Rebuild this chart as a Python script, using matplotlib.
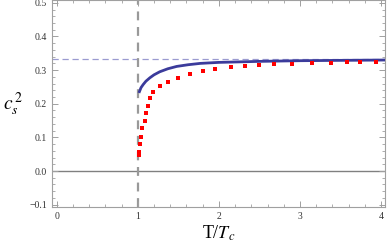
import matplotlib
matplotlib.use("Agg")
import matplotlib.pyplot as plt
from matplotlib.ticker import MultipleLocator

plt.rcParams["font.family"] = ["Liberation Serif", "DejaVu Serif"]
plt.rcParams["mathtext.fontset"] = "stix"

# lattice-like points (red squares)
t_pts = [1.012, 1.016, 1.025, 1.045, 1.058, 1.086, 1.103, 1.128, 1.152, 1.193,
         1.276, 1.37, 1.494, 1.65, 1.80, 1.95, 2.15, 2.32, 2.49, 2.68,
         2.90, 3.15, 3.38, 3.58, 3.74, 3.94]
cs2_pts = [0.048, 0.058, 0.080, 0.102, 0.129, 0.149, 0.172, 0.194, 0.216, 0.234,
           0.252, 0.265, 0.276, 0.289, 0.298, 0.304, 0.310, 0.311, 0.315, 0.318,
           0.319, 0.321, 0.322, 0.323, 0.324, 0.324]

# model curve (blue line)
t_line = [1.02, 1.04, 1.066, 1.10, 1.148, 1.20, 1.27, 1.37, 1.48, 1.62,
          1.77, 2.0, 2.17, 2.5, 3.0, 3.5, 4.05]
cs2_line = [0.236, 0.248, 0.257, 0.267, 0.277, 0.286, 0.295, 0.304, 0.311, 0.316,
            0.320, 0.323, 0.324, 0.326, 0.328, 0.329, 0.330]

conformal = 1.0 / 3.0
t_c = 1.0

fig = plt.figure(figsize=(3.87, 2.45), dpi=100)
ax = fig.add_axes([0.134, 0.155, 0.861, 0.843])

ax.axhline(0.0, color="#808080", lw=1.0, zorder=1)
ax.axhline(conformal, color="#9a9ad0", lw=0.9, ls=(0, (5, 3)), zorder=1)
ax.axvline(t_c, color="#999999", lw=1.6, ls=(0, (4, 3)), zorder=1)

ax.plot(t_line, cs2_line, color="#3b3b9b", lw=2.0, zorder=3)
ax.plot(t_pts, cs2_pts, ls="none", marker="s", ms=3.5, color="#ff0000", mew=0, zorder=4)

ax.set_xlim(-0.06, 4.05)
ax.set_ylim(-0.107, 0.507)
ax.xaxis.set_major_locator(MultipleLocator(1))
ax.xaxis.set_minor_locator(MultipleLocator(0.2))
ax.yaxis.set_major_locator(MultipleLocator(0.1))
ax.yaxis.set_minor_locator(MultipleLocator(0.02))
ax.yaxis.set_major_formatter(matplotlib.ticker.FuncFormatter(
    lambda v, p: ("\u2212%.1f" % -v) if v < -1e-9 else "%.1f" % abs(v)))

for s in ax.spines.values():
    s.set_color("#a0a0a0")
    s.set_linewidth(0.8)
ax.tick_params(which="both", direction="in", top=True, right=True,
               color="#a0a0a0", labelsize=7, labelcolor="#333333")
ax.tick_params(which="major", length=4, width=0.7)
ax.tick_params(which="minor", length=2, width=0.6)

ax.set_xlabel(r"T/$T_c$", fontsize=13, labelpad=2)
ax.set_ylabel(r"$c_s^{\,2}$", fontsize=14, rotation=0, labelpad=12, va="center")

fig.savefig("out.png", dpi=100)
